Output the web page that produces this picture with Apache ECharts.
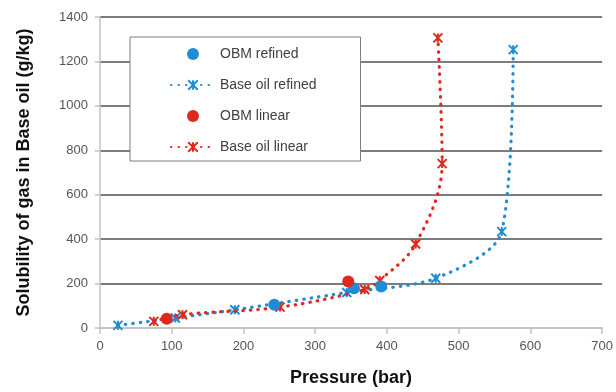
<!DOCTYPE html>
<html><head><meta charset="utf-8">
<script src="https://cdn.jsdelivr.net/npm/echarts@6/dist/echarts.min.js"></script>
<style>html,body{margin:0;padding:0;background:#fff}#c{width:616px;height:392px}</style>
</head><body><div id="c"></div>
<script>
// Data
const seriesNames = ['OBM refined', 'Base oil refined', 'OBM linear', 'Base oil linear'];
const obmRefinedX = [243, 354, 392];
const obmRefinedY = [105, 179, 187];
const baseRefinedX = [25, 105, 188, 344, 468, 560, 576];
const baseRefinedY = [12, 45, 82, 160, 224, 434, 1253];
const obmLinearX = [93, 346];
const obmLinearY = [42, 209];
const baseLinearX = [75, 115, 251, 369, 390, 440, 477, 471];
const baseLinearY = [30, 60, 94, 173, 214, 378, 740, 1306];
const xTicks = [0, 100, 200, 300, 400, 500, 600, 700];
const yTicks = [0, 200, 400, 600, 800, 1000, 1200, 1400];

const BLUE = '#1f8dd6', RED = '#de2a1e';
const FONT = 'Liberation Sans';
const zip = (a, b) => a.map((v, i) => [v, b[i]]);
const starPath = 'path://M0,0L10,10M10,0L0,10M5,0L5,10';

const chart = echarts.init(document.getElementById('c'), null, {renderer: 'canvas'});
chart.setOption({
  animation: false,
  backgroundColor: '#fff',
  textStyle: {fontFamily: FONT},
  grid: {left: 100, right: 13, top: 17, bottom: 63},
  legend: {
    data: seriesNames,
    orient: 'vertical',
    left: 130, top: 37,
    padding: [10, 44, 7, 40],
    itemGap: 17,
    itemWidth: 44, itemHeight: 12,
    backgroundColor: '#fff',
    borderColor: '#7f7f7f', borderWidth: 1,
    textStyle: {fontFamily: FONT, fontSize: 14, color: '#404040'}
  },
  xAxis: {
    type: 'value', min: xTicks[0], max: xTicks[xTicks.length - 1], interval: 100,
    name: 'Pressure (bar)', nameLocation: 'middle', nameGap: 41,
    nameTextStyle: {fontFamily: FONT, fontSize: 18, fontWeight: 'bold', color: '#111'},
    axisLine: {show: true, lineStyle: {color: '#c4c4c4', width: 1.5}},
    axisTick: {show: true, length: 6, lineStyle: {color: '#c4c4c4', width: 1.5}},
    axisLabel: {fontSize: 13, color: '#555', margin: 12, formatter: v => String(v)},
    splitLine: {show: false}
  },
  yAxis: {
    type: 'value', min: yTicks[0], max: yTicks[yTicks.length - 1], interval: 200,
    name: 'Solubility of gas in Base oil (g/kg)', nameLocation: 'middle', nameGap: 67,
    nameTextStyle: {fontFamily: FONT, fontSize: 18, fontWeight: 'bold', color: '#111'},
    axisLine: {show: true, lineStyle: {color: '#c4c4c4', width: 1.5}},
    axisTick: {show: true, length: 5, lineStyle: {color: '#c4c4c4', width: 1.5}},
    axisLabel: {fontSize: 13, color: '#555', margin: 12, formatter: v => String(v)},
    splitLine: {show: true, lineStyle: {color: ['#c4c4c4', '#7c7c7c', '#7c7c7c', '#7c7c7c', '#7c7c7c', '#7c7c7c', '#7c7c7c', '#7c7c7c'], width: 1.8}}
  },
  series: [
    {
      name: seriesNames[1], type: 'line', data: zip(baseRefinedX, baseRefinedY),
      smooth: 0.3, symbol: starPath, symbolSize: 9, symbolKeepAspect: true,
      lineStyle: {color: BLUE, width: 3.2, type: [0.5, 7], cap: 'round'},
      itemStyle: {color: BLUE, borderColor: BLUE, borderWidth: 2}, z: 2
    },
    {
      name: seriesNames[3], type: 'line', data: zip(baseLinearX, baseLinearY),
      smooth: 0.35, symbol: starPath, symbolSize: 9, symbolKeepAspect: true,
      lineStyle: {color: RED, width: 3.2, type: [0.5, 7], cap: 'round'},
      itemStyle: {color: RED, borderColor: RED, borderWidth: 2}, z: 3
    },
    {
      name: seriesNames[0], type: 'scatter', data: zip(obmRefinedX, obmRefinedY),
      symbol: 'circle', symbolSize: 12, itemStyle: {color: BLUE, opacity: 1}, z: 4
    },
    {
      name: seriesNames[2], type: 'scatter', data: zip(obmLinearX, obmLinearY),
      symbol: 'circle', symbolSize: 12, itemStyle: {color: RED, opacity: 1}, z: 5
    }
  ]
});
</script></body></html>
